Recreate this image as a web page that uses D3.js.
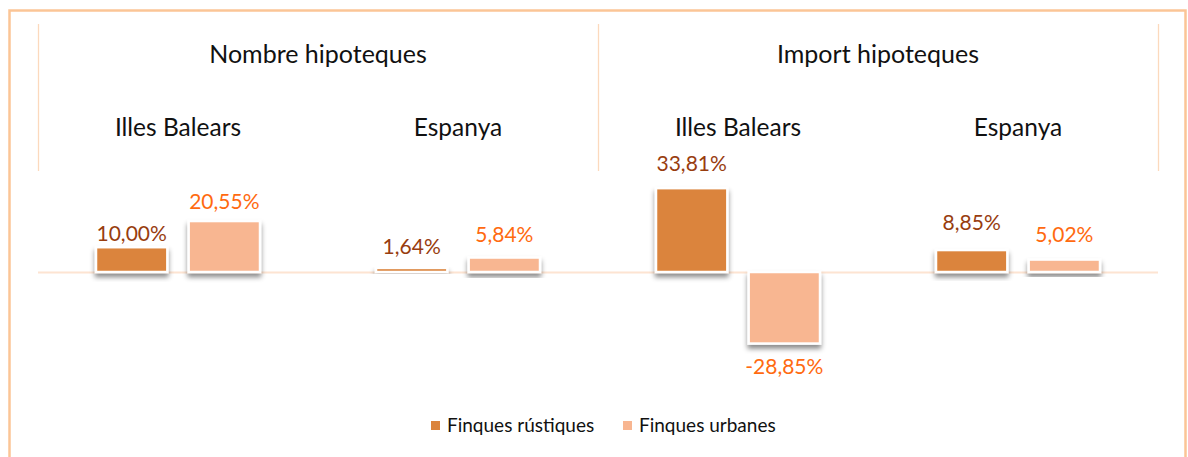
<!DOCTYPE html>
<html>
<head>
<meta charset="utf-8">
<script src="https://cdn.jsdelivr.net/npm/d3@7"></script>
<style>
  html, body { margin: 0; padding: 0; background: #fff; }
  svg { display: block; font-family: Lato, "Open Sans", sans-serif; }
</style>
</head>
<body>
<div id="chart"></div>
<script>
// data
var groups = ["Nombre hipoteques", "Import hipoteques"];
var regions = ["Illes Balears", "Espanya"];
var series = ["Finques rústiques", "Finques urbanes"];
var rustiques = [10.00, 1.64, 33.81, 8.85];
var urbanes = [20.55, 5.84, -28.85, 5.02];

var colors = ["#db843d", "#f8b691"],
    labelColors = ["#983d0f", "#ff6a10"];
// label distance from bar end, per bar (label placement in the original)
var labelGap = [[6, 14, 17, 20], [12, 16, 15, 18]];

var W = 1188, H = 457,
    left = 38, right = 1158, zeroY = 272;

var cats = d3.range(4);
var rows = cats.map(function(i) {
  return { g: groups[Math.floor(i / 2)], r: regions[i % 2], vals: [rustiques[i], urbanes[i]] };
});

var svg = d3.select("#chart").append("svg").attr("width", W).attr("height", H);

var defs = svg.append("defs");
var f = defs.append("filter").attr("id", "shadow")
    .attr("x", "-20%").attr("y", "-20%").attr("width", "140%").attr("height", "160%");
f.append("feDropShadow").attr("dx", 0).attr("dy", 4).attr("stdDeviation", 2.5)
    .attr("flood-color", "#000").attr("flood-opacity", 0.45);

// outer frame
svg.append("rect")
    .attr("x", 9.5).attr("y", 10.5).attr("width", 1176).attr("height", 470)
    .attr("fill", "none").attr("stroke", "#fbc596").attr("stroke-width", 2.5);

var x0 = d3.scaleBand().domain(cats).range([left, right]);
var xg = d3.scaleBand().domain([0, 1]).range([left, right]);
var x1 = d3.scaleBand().domain([0, 1]).range([58, 222]).paddingInner(0.23);
var y = d3.scaleLinear().domain([-40, 40]).range([zeroY + 99.2, zeroY - 99.2]);

var fmt = function(v) { return d3.format(".2f")(v).replace(".", ",").replace("\u2212", "-") + "%"; };

// group separators
[left, xg(1), right].forEach(function(xx) {
  svg.append("line")
      .attr("x1", Math.round(xx) + 0.5).attr("x2", Math.round(xx) + 0.5)
      .attr("y1", 24).attr("y2", 171)
      .attr("stroke", "#fcd9bd").attr("stroke-width", 1.3);
});

// headers
svg.selectAll("text.group").data(groups).enter().append("text")
    .attr("class", "group")
    .attr("x", function(d, i) { return xg(i) + xg.bandwidth() / 2; })
    .attr("y", 63)
    .attr("text-anchor", "middle")
    .attr("font-size", 25).attr("fill", "#111")
    .text(function(d) { return d; });

svg.selectAll("text.region").data(rows).enter().append("text")
    .attr("class", "region")
    .attr("x", function(d, i) { return x0(i) + x0.bandwidth() / 2; })
    .attr("y", 136)
    .attr("text-anchor", "middle")
    .attr("font-size", 24.5).attr("fill", "#111")
    .text(function(d) { return d.r; });

// zero line
svg.append("line")
    .attr("x1", left).attr("x2", right)
    .attr("y1", zeroY + 0.5).attr("y2", zeroY + 0.5)
    .attr("stroke", "#fde4d2").attr("stroke-width", 2);

// bars
var cat = svg.selectAll("g.cat").data(rows).enter().append("g")
    .attr("class", "cat")
    .attr("transform", function(d, i) { return "translate(" + x0(i) + ",0)"; });

var bars = cat.selectAll("g.bar").data(function(d, i) {
  return d.vals.map(function(v, s) { return { v: v, s: s, c: i }; });
}).enter().append("g").attr("class", "bar");

bars.append("rect")
    .attr("x", function(d) { return x1(d.s); })
    .attr("width", x1.bandwidth())
    .attr("y", function(d) { return Math.min(y(d.v), y(0)); })
    .attr("height", function(d) { return Math.abs(y(d.v) - y(0)); })
    .attr("fill", function(d) { return colors[d.s]; })
    .attr("stroke", "#fff").attr("stroke-width", 2.5)
    .attr("filter", "url(#shadow)");

bars.append("text")
    .attr("x", function(d) { return x1(d.s) + x1.bandwidth() / 2; })
    .attr("y", function(d) {
      var g = labelGap[d.s][d.c];
      return d.v >= 0 ? y(d.v) - g : y(d.v) + g + 15;
    })
    .attr("text-anchor", "middle")
    .attr("font-size", 21)
    .attr("fill", function(d) { return labelColors[d.s]; })
    .text(function(d) { return fmt(d.v); });

// legend
var legX = [431, 623];
var leg = svg.selectAll("g.leg").data(series).enter().append("g")
    .attr("class", "leg")
    .attr("transform", function(d, i) { return "translate(" + legX[i] + ",421)"; });
leg.append("rect").attr("width", 9).attr("height", 9)
    .attr("fill", function(d, i) { return colors[i]; });
leg.append("text").attr("x", 16).attr("y", 11)
    .attr("font-size", 19).attr("fill", "#111")
    .text(function(d) { return d; });
</script>
</body>
</html>
